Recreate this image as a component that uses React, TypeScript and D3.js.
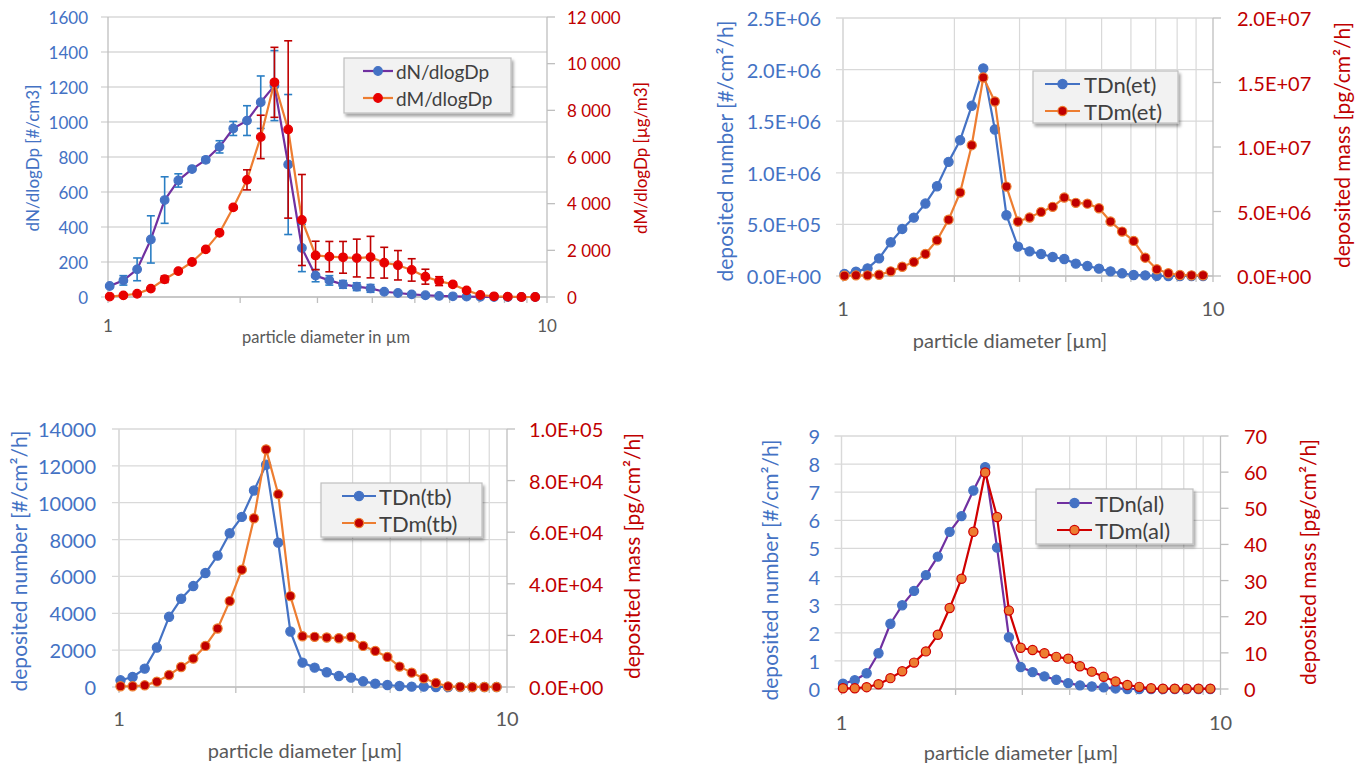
import React from "react";
import * as d3 from "d3";

// ---------- data ----------
const diameters = [1.009, 1.084, 1.165, 1.252, 1.346, 1.446, 1.554, 1.67, 1.795, 1.929, 2.073, 2.228, 2.394, 2.573, 2.765, 2.971, 3.193, 3.431, 3.687, 3.963, 4.258, 4.576, 4.918, 5.285, 5.679, 6.103, 6.559, 7.048, 7.574, 8.14, 8.747, 9.4];

const dNdlogDp = [63, 95, 158, 329, 554, 666, 731, 784, 858, 963, 1008, 1113, 1208, 757, 280, 122, 95, 72, 59, 49, 30, 23, 15, 10, 6, 4, 2, 1, 0, 0, 0, 0];
const dNdlogDpErr = [8, 27, 65, 135, 133, 38, 10, 15, 35, 40, 85, 150, 200, 400, 135, 35, 27, 22, 22, 22, 0, 0, 0, 0, 0, 0, 0, 0, 0, 0, 0, 0];
const dMdlogDp = [20, 70, 140, 360, 760, 1110, 1500, 2040, 2750, 3840, 5020, 6860, 9200, 7180, 3300, 1780, 1730, 1700, 1670, 1710, 1470, 1360, 1160, 870, 680, 540, 285, 85, 30, 15, 0, 0];
const dMdlogDpErr = [0, 0, 0, 0, 140, 0, 0, 0, 0, 0, 430, 930, 1500, 3800, 1950, 610, 650, 680, 810, 890, 660, 630, 480, 320, 190, 80, 0, 0, 0, 0, 0, 0];

const tdnEt = [2e4, 4.2e4, 7.4e4, 1.71e5, 3.27e5, 4.56e5, 5.66e5, 7.02e5, 8.7e5, 1.106e6, 1.316e6, 1.649e6, 2.012e6, 1.42e6, 5.89e5, 2.85e5, 2.39e5, 2.13e5, 1.84e5, 1.65e5, 1.2e5, 9.7e4, 7.1e4, 4.5e4, 2.6e4, 1.0e4, 6e3, 2e3, 0, 0, 0, 0];
const tdmEt = [2e4, 5e4, 5e4, 1e5, 3.6e5, 7.2e5, 1.09e6, 1.71e6, 2.77e6, 4.37e6, 6.47e6, 1.014e7, 1.539e7, 1.353e7, 6.93e6, 4.22e6, 4.53e6, 4.97e6, 5.36e6, 6.08e6, 5.67e6, 5.61e6, 5.25e6, 4.22e6, 3.44e6, 2.72e6, 1.42e6, 5.2e5, 2.1e5, 8e4, 5e4, 5e4];

const tdnTb = [363, 544, 998, 2140, 3808, 4788, 5477, 6185, 7127, 8342, 9231, 10664, 12060, 7835, 3011, 1324, 1052, 798, 598, 508, 308, 181, 109, 54, 20, 20, 0, 0, 0, 0, 0, 0];
const tdmTb = [300, 300, 650, 2070, 4660, 7770, 11000, 15930, 22670, 33290, 45470, 65410, 92100, 74740, 35230, 19690, 19430, 19170, 18910, 19430, 15930, 13990, 11660, 7900, 5570, 3370, 1550, 260, 50, 20, 10, 10];

const tdnAl = [0.19, 0.31, 0.56, 1.27, 2.32, 2.98, 3.49, 4.05, 4.71, 5.59, 6.15, 7.06, 7.89, 5.03, 1.84, 0.78, 0.6, 0.45, 0.33, 0.21, 0.13, 0.09, 0.06, 0.02, 0.0, 0.0, 0, 0, 0, 0, 0, 0];
const tdmAl = [0.2, 0.2, 0.5, 1.3, 3.0, 4.9, 7.3, 10.4, 15.0, 22.4, 30.5, 43.5, 59.9, 47.6, 21.7, 11.4, 10.8, 9.9, 8.9, 8.4, 6.3, 4.8, 3.4, 2.1, 1.1, 0.6, 0.2, 0.1, 0.1, 0.1, 0.1, 0.1];

const xTickLabels = [1, 10];
const xMinorTicks = [2, 3, 4, 5, 6, 7, 8, 9];

const ticksDN = [0, 200, 400, 600, 800, 1000, 1200, 1400, 1600];
const ticksDM = [0, 2000, 4000, 6000, 8000, 10000, 12000];
const ticksEtN = [0, 5e5, 1e6, 1.5e6, 2e6, 2.5e6];
const ticksEtM = [0, 5e6, 1e7, 1.5e7, 2e7];
const ticksTbN = [0, 2000, 4000, 6000, 8000, 10000, 12000, 14000];
const ticksTbM = [0, 2e4, 4e4, 6e4, 8e4, 1e5];
const ticksAlN = [0, 1, 2, 3, 4, 5, 6, 7, 8, 9];
const ticksAlM = [0, 10, 20, 30, 40, 50, 60, 70];

// ---------- formatting ----------
const fmtPlain = (v: number) => String(v);
const fmtSpace = (v: number) => d3.format(",")(v).replace(/,/g, " ");
const fmtE = (v: number) => {
  if (v === 0) return "0.0E+00";
  const e = Math.floor(Math.log10(v) + 1e-9);
  const m = v / Math.pow(10, e);
  return m.toFixed(1) + "E+" + String(e).padStart(2, "0");
};

const BLUE = "#4472C4";
const RED = "#C00000";
const GRID = "#D9D9D9";
const AXIS = "#BFBFBF";
const FONT = "Lato, 'Open Sans', sans-serif";

type Series = {
  name: string;
  values: number[];
  err?: number[];
  errColor?: string;
  axis: "l" | "r";
  line: string;
  fill: string;
  stroke: string;
};

type PanelCfg = {
  x0: number; x1: number; yTop: number; yBot: number;
  lDomain: [number, number]; lTicks: number[]; lFmt: (v: number) => string;
  rDomain: [number, number]; rTicks: number[]; rFmt: (v: number) => string;
  lLabelX: number; rLabelX: number; tickFont: number;
  lTitle: string; lTitleX: number; lTitleY: number;
  rTitle: string; rTitleX: number; rTitleY: number; titleFont: number;
  xLabelY: number; xTitle: string; xTitleX: number; xTitleY: number; xTitleFont: number;
  vGrid: boolean;
  series: Series[];
  legend: { x: number; y: number; w: number; h: number; rows: number[]; lx0: number; lx1: number; tx: number; font: number };
  r: number;
};

const panels: PanelCfg[] = [
  {
    x0: 108, x1: 547, yTop: 17, yBot: 297,
    lDomain: [0, 1600], lTicks: ticksDN, lFmt: fmtPlain,
    rDomain: [0, 12000], rTicks: ticksDM, rFmt: fmtSpace,
    lLabelX: 88, rLabelX: 567, tickFont: 17,
    lTitle: "dN/dlogDp [#/cm3]", lTitleX: 32, lTitleY: 158,
    rTitle: "dM/dlogDp [µg/m3]", rTitleX: 640, rTitleY: 158, titleFont: 17,
    xLabelY: 325, xTitle: "particle diameter in µm", xTitleX: 326, xTitleY: 337, xTitleFont: 16.5,
    vGrid: false,
    series: [
      { name: "dN/dlogDp", values: dNdlogDp, err: dNdlogDpErr, errColor: "#2A7EC4", axis: "l", line: "#7030A0", fill: BLUE, stroke: BLUE },
      { name: "dM/dlogDp", values: dMdlogDp, err: dMdlogDpErr, errColor: "#C00000", axis: "r", line: "#ED7D31", fill: "#E80000", stroke: "#E80000" },
    ],
    legend: { x: 344, y: 58, w: 167, h: 55, rows: [71, 98], lx0: 363, lx1: 393, tx: 396, font: 19 },
    r: 4.3,
  },
  {
    x0: 843, x1: 1213, yTop: 18, yBot: 276,
    lDomain: [0, 2.5e6], lTicks: ticksEtN, lFmt: fmtE,
    rDomain: [0, 2e7], rTicks: ticksEtM, rFmt: fmtE,
    lLabelX: 821, rLabelX: 1237, tickFont: 20,
    lTitle: "deposited number [#/cm²/h]", lTitleX: 724, lTitleY: 151,
    rTitle: "deposited mass [pg/cm²/h]", rTitleX: 1341, rTitleY: 145, titleFont: 21,
    xLabelY: 308, xTitle: "particle diameter [µm]", xTitleX: 1010, xTitleY: 340, xTitleFont: 20,
    vGrid: true,
    series: [
      { name: "TDn(et)", values: tdnEt, axis: "l", line: BLUE, fill: BLUE, stroke: BLUE },
      { name: "TDm(et)", values: tdmEt, axis: "r", line: "#ED7D31", fill: RED, stroke: "#ED7D31" },
    ],
    legend: { x: 1033, y: 71, w: 145, h: 52, rows: [84, 111], lx0: 1045, lx1: 1080, tx: 1084, font: 22 },
    r: 4.6,
  },
  {
    x0: 119, x1: 507, yTop: 429, yBot: 687,
    lDomain: [0, 14000], lTicks: ticksTbN, lFmt: fmtPlain,
    rDomain: [0, 1e5], rTicks: ticksTbM, rFmt: fmtE,
    lLabelX: 96, rLabelX: 529, tickFont: 20,
    lTitle: "deposited number [#/cm²/h]", lTitleX: 18, lTitleY: 561,
    rTitle: "deposited mass [pg/cm²/h]", rTitleX: 631, rTitleY: 556, titleFont: 21,
    xLabelY: 718, xTitle: "particle diameter [µm]", xTitleX: 305, xTitleY: 750, xTitleFont: 20,
    vGrid: true,
    series: [
      { name: "TDn(tb)", values: tdnTb, axis: "l", line: BLUE, fill: BLUE, stroke: BLUE },
      { name: "TDm(tb)", values: tdmTb, axis: "r", line: "#ED7D31", fill: RED, stroke: "#ED7D31" },
    ],
    legend: { x: 321, y: 483, w: 161, h: 54, rows: [496, 523], lx0: 342, lx1: 376, tx: 379, font: 22 },
    r: 4.6,
  },
  {
    x0: 841.5, x1: 1220.5, yTop: 436, yBot: 689,
    lDomain: [0, 9], lTicks: ticksAlN, lFmt: fmtPlain,
    rDomain: [0, 70], rTicks: ticksAlM, rFmt: fmtPlain,
    lLabelX: 820, rLabelX: 1244, tickFont: 20,
    lTitle: "deposited number [#/cm²/h]", lTitleX: 769, lTitleY: 570,
    rTitle: "deposited mass [pg/cm²/h]", rTitleX: 1307, rTitleY: 562, titleFont: 21,
    xLabelY: 722, xTitle: "particle diameter [µm]", xTitleX: 1021, xTitleY: 752, xTitleFont: 20,
    vGrid: true,
    series: [
      { name: "TDn(al)", values: tdnAl, axis: "l", line: "#7030A0", fill: BLUE, stroke: BLUE },
      { name: "TDm(al)", values: tdmAl, axis: "r", line: "#D00000", fill: "#ED7D31", stroke: "#D00000" },
    ],
    legend: { x: 1036, y: 489, w: 157, h: 55, rows: [503, 530], lx0: 1057, lx1: 1092, tx: 1095, font: 22 },
    r: 4.6,
  },
];

function Panel({ c, idx }: { c: PanelCfg; idx: number }) {
  const x = d3.scaleLog().domain([1, 10]).range([c.x0, c.x1]);
  const yl = d3.scaleLinear().domain(c.lDomain).range([c.yBot, c.yTop]);
  const yr = d3.scaleLinear().domain(c.rDomain).range([c.yBot, c.yTop]);
  const leftLine = idx === 0 ? AXIS : GRID;
  return (
    <g fontFamily={FONT}>
      {/* vertical gridlines */}
      {c.vGrid && [1, ...xMinorTicks].map((v) => (
        <line key={"vg" + v} x1={x(v)} x2={x(v)} y1={c.yTop} y2={c.yBot} stroke={GRID} strokeWidth={1.2} />
      ))}
      {/* horizontal gridlines + left ticks */}
      {c.lTicks.map((t) => (
        <line key={"hg" + t} x1={c.x0 - 7} x2={c.x1} y1={yl(t)} y2={yl(t)} stroke={GRID} strokeWidth={1.3} />
      ))}
      <line x1={c.x0} x2={c.x0} y1={c.yTop} y2={c.yBot} stroke={leftLine} strokeWidth={1.3} />
      {/* right axis */}
      <line x1={c.x1} x2={c.x1} y1={c.yTop} y2={c.yBot} stroke={AXIS} strokeWidth={1.3} />
      {c.rTicks.map((t) => (
        <line key={"rt" + t} x1={c.x1} x2={c.x1 + 8} y1={yr(t)} y2={yr(t)} stroke={AXIS} strokeWidth={1.3} />
      ))}
      {/* bottom axis */}
      <line x1={c.x0} x2={c.x1} y1={c.yBot} y2={c.yBot} stroke={AXIS} strokeWidth={1.3} />
      {[1, ...xMinorTicks, 10].map((v) => (
        <line key={"bt" + v} x1={x(v)} x2={x(v)} y1={c.yBot} y2={c.yBot + 6} stroke={AXIS} strokeWidth={1.3} />
      ))}
      {/* left labels */}
      {c.lTicks.map((t) => (
        <text key={"ll" + t} x={c.lLabelX} y={yl(t)} textAnchor="end" dominantBaseline="central" fill={BLUE} fontSize={c.tickFont}>
          {c.lFmt(t)}
        </text>
      ))}
      {c.rTicks.map((t) => (
        <text key={"rl" + t} x={c.rLabelX} y={yr(t)} textAnchor="start" dominantBaseline="central" fill={RED} fontSize={c.tickFont}>
          {c.rFmt(t)}
        </text>
      ))}
      {xTickLabels.map((t) => (
        <text key={"xl" + t} x={x(t)} y={c.xLabelY} textAnchor="middle" dominantBaseline="central" fill="#595959" fontSize={c.tickFont}>
          {t}
        </text>
      ))}
      <text x={c.xTitleX} y={c.xTitleY} textAnchor="middle" dominantBaseline="central" fill="#595959" fontSize={c.xTitleFont}>
        {c.xTitle}
      </text>
      <text transform={`translate(${c.lTitleX},${c.lTitleY}) rotate(-90)`} textAnchor="middle" dominantBaseline="central" fill={BLUE} fontSize={c.titleFont}>
        {c.lTitle}
      </text>
      <text transform={`translate(${c.rTitleX},${c.rTitleY}) rotate(-90)`} textAnchor="middle" dominantBaseline="central" fill={RED} fontSize={c.titleFont}>
        {c.rTitle}
      </text>
      {/* series */}
      {c.series.map((s, si) => {
        const y = s.axis === "l" ? yl : yr;
        const pts: [number, number][] = diameters.map((d, i) => [d, s.values[i]]);
        const path = d3.line<[number, number]>().x((p) => x(p[0])).y((p) => y(p[1]))(pts) || "";
        return (
          <g key={"s" + si}>
            <path d={path} fill="none" stroke={s.line} strokeWidth={2.2} strokeLinejoin="round" />
            {s.err && s.err.map((e, i) =>
              e > 0 ? (
                <g key={"e" + i} stroke={s.errColor} strokeWidth={1.6}>
                  <line x1={x(diameters[i])} x2={x(diameters[i])} y1={y(s.values[i] - e)} y2={y(s.values[i] + e)} />
                  <line x1={x(diameters[i]) - 4} x2={x(diameters[i]) + 4} y1={y(s.values[i] - e)} y2={y(s.values[i] - e)} />
                  <line x1={x(diameters[i]) - 4} x2={x(diameters[i]) + 4} y1={y(s.values[i] + e)} y2={y(s.values[i] + e)} />
                </g>
              ) : null
            )}
            {pts.map((p, i) => (
              <circle key={"c" + i} cx={x(p[0])} cy={y(p[1])} r={c.r} fill={s.fill} stroke={s.stroke} strokeWidth={1.2} />
            ))}
          </g>
        );
      })}
      {/* legend */}
      <g>
        <rect x={c.legend.x} y={c.legend.y} width={c.legend.w} height={c.legend.h} fill="#F2F2F2" stroke={AXIS} strokeWidth={1.2} filter="url(#shadow)" />
        {c.series.map((s, si) => {
          const ry = c.legend.rows[si];
          const mx = (c.legend.lx0 + c.legend.lx1) / 2;
          return (
            <g key={"lg" + si}>
              <line x1={c.legend.lx0} x2={c.legend.lx1} y1={ry} y2={ry} stroke={s.line} strokeWidth={2.2} />
              <circle cx={mx} cy={ry} r={c.r} fill={s.fill} stroke={s.stroke} strokeWidth={1.2} />
              <text x={c.legend.tx} y={ry} dominantBaseline="central" fill="#404040" fontSize={c.legend.font}>
                {s.name}
              </text>
            </g>
          );
        })}
      </g>
    </g>
  );
}

export default function App() {
  return (
    <svg width={1366} height={765} style={{ position: "absolute", left: 0, top: 0, background: "#fff" }}>
      <defs>
        <filter id="shadow" x="-20%" y="-20%" width="140%" height="150%">
          <feDropShadow dx={2} dy={3} stdDeviation={1.8} floodColor="#000" floodOpacity={0.35} />
        </filter>
      </defs>
      <rect width={1366} height={765} fill="#fff" />
      {panels.map((c, i) => (
        <Panel key={i} c={c} idx={i} />
      ))}
    </svg>
  );
}
